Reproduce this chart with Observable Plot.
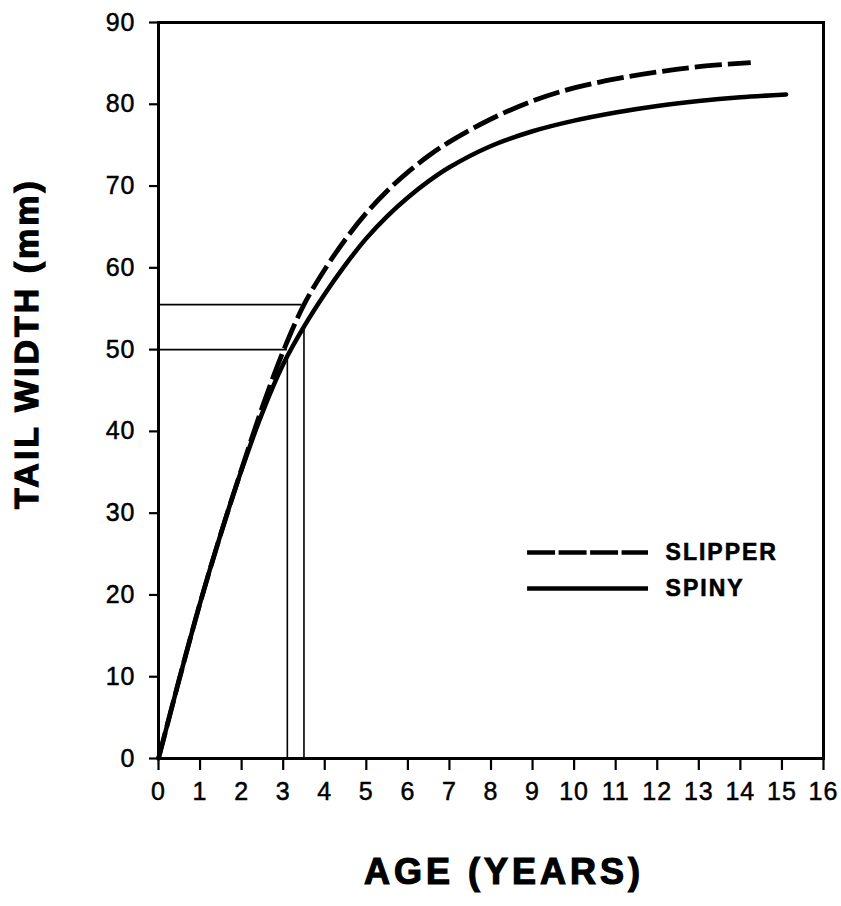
<!DOCTYPE html>
<html><head><meta charset="utf-8">
<script src="https://cdn.jsdelivr.net/npm/d3@7"></script>
<script src="https://cdn.jsdelivr.net/npm/@observablehq/plot@0.6"></script>
<style>
body{margin:0;background:#fff}
</style>
</head><body><div id="chart"></div>
<script>
// Tick labels
const xTicks = [0,1,2,3,4,5,6,7,8,9,10,11,12,13,14,15,16];
const yTicks = [0,10,20,30,40,50,60,70,80,90];

// Series (age in years, tail width in mm)
const spinyAge   = [0,0.5,1,1.5,2,2.5,3,3.5,4,4.5,5,5.5,6,6.5,7,8,9,10,11,12,13,14,15.1];
const spinyWidth = [0,9.7,19.0,27.5,35.3,42.3,48.2,52.8,56.8,60.4,63.6,66.3,68.6,70.6,72.3,74.9,76.7,78.0,79.0,79.8,80.4,80.85,81.2];
const slipperAge   = [0,0.5,1,1.5,2,2.5,3,3.5,4,4.5,5,5.5,6,6.5,7,8,9,10,11,12,13,14.25];
const slipperWidth = [0,9.7,19.0,27.5,35.4,43.0,49.8,55.5,59.8,63.5,66.7,69.4,71.7,73.7,75.4,78.2,80.4,82.0,83.1,83.95,84.6,85.1];

// Reference (drop) lines
const refAge   = [3.1, 3.5];
const refWidth = [50, 55.5];
const refHEnd  = [3.1, 3.45];
const refVEnd  = [49.3, 52.8];

// Legend
const seriesNames = ["SLIPPER", "SPINY"];

const spiny = spinyAge.map((a,i)=>({age:a, width:spinyWidth[i]}));
const slipper = slipperAge.map((a,i)=>({age:a, width:slipperWidth[i]}));
const hRefs = refWidth.map((w,i)=>({y:w, x2:refHEnd[i]}));
const vRefs = refAge.map((a,i)=>({x:a, y2:refVEnd[i]}));
const legend = seriesNames.map((n,i)=>({name:n, y:[25.2,20.8][i], dashed: i===0}));

const font = "'Liberation Sans', Arial, Helvetica, sans-serif";

const chart = Plot.plot({
  width: 841, height: 906,
  marginLeft: 158, marginRight: 18, marginTop: 22, marginBottom: 148,
  style: {fontFamily: font, fontSize: "25px", color: "#000", background: "#fff", overflow: "visible"},
  x: {domain: [0,16]},
  y: {domain: [0,90]},
  marks: [
    Plot.ruleY(hRefs, {y: "y", x1: 0, x2: "x2", stroke: "#000", strokeWidth: 1.6}),
    Plot.ruleX(vRefs, {x: "x", y1: 0, y2: "y2", stroke: "#000", strokeWidth: 1.6}),
    Plot.line(spiny, {x: "age", y: "width", stroke: "#000", strokeWidth: 4.5, curve: "catmull-rom"}),
    Plot.line(slipper, {x: "age", y: "width", stroke: "#000", strokeWidth: 4.8, strokeDasharray: "27,6", strokeLinecap: "butt", curve: "catmull-rom"}),
    Plot.ruleY(legend.filter(d=>d.dashed), {y: "y", x1: 8.88, x2: 11.79, stroke: "#000", strokeWidth: 4.5, strokeDasharray: "28,3.5", strokeLinecap: "butt"}),
    Plot.ruleY(legend.filter(d=>!d.dashed), {y: "y", x1: 8.88, x2: 11.79, stroke: "#000", strokeWidth: 4.5, strokeLinecap: "butt"}),
    Plot.text(legend, {x: 12.2, y: "y", text: "name", textAnchor: "start", lineAnchor: "middle", fontSize: 23, fontWeight: "bold", fill: "#000"}),
    Plot.frame({stroke: "#000", strokeWidth: 3}),
    Plot.axisX({ticks: xTicks, tickSize: 12, tickPadding: 12, strokeWidth: 2.2, label: null, tickFormat: d=>d}),
    Plot.axisY({ticks: yTicks, tickSize: 9, tickPadding: 14, strokeWidth: 2.2, label: null, tickFormat: d=>d}),
    Plot.text(["AGE (YEARS)"], {frameAnchor: "bottom", dx: 13, dy: 114, lineAnchor: "middle", textAnchor: "middle", fontSize: 36, fontWeight: "bold", fill: "#000"}),
    Plot.text(["TAIL WIDTH (mm)"], {frameAnchor: "left", dx: -131, dy: -47, rotate: -90, lineAnchor: "middle", textAnchor: "middle", fontSize: 34, fontWeight: "bold", fill: "#000"})
  ]
});

d3.select(chart).selectAll("text").each(function(){
  const t = this.textContent;
  if (t === "AGE (YEARS)") { this.style.letterSpacing = "4px"; this.style.stroke = "#000"; this.style.strokeWidth = "1.2px"; }
  else if (t === "TAIL WIDTH (mm)") { this.style.letterSpacing = "3px"; this.style.stroke = "#000"; this.style.strokeWidth = "1.2px"; }
  else if (t === "SLIPPER" || t === "SPINY") { this.style.letterSpacing = "2px"; this.style.stroke = "#000"; this.style.strokeWidth = "0.6px"; }
});
d3.select(chart).selectAll("[aria-label^='x-axis tick label'] text, [aria-label^='y-axis tick label'] text")
  .style("letter-spacing", "1px").style("stroke", "#000").style("stroke-width", "0.5px");

document.getElementById("chart").appendChild(chart);
</script>
</body></html>
